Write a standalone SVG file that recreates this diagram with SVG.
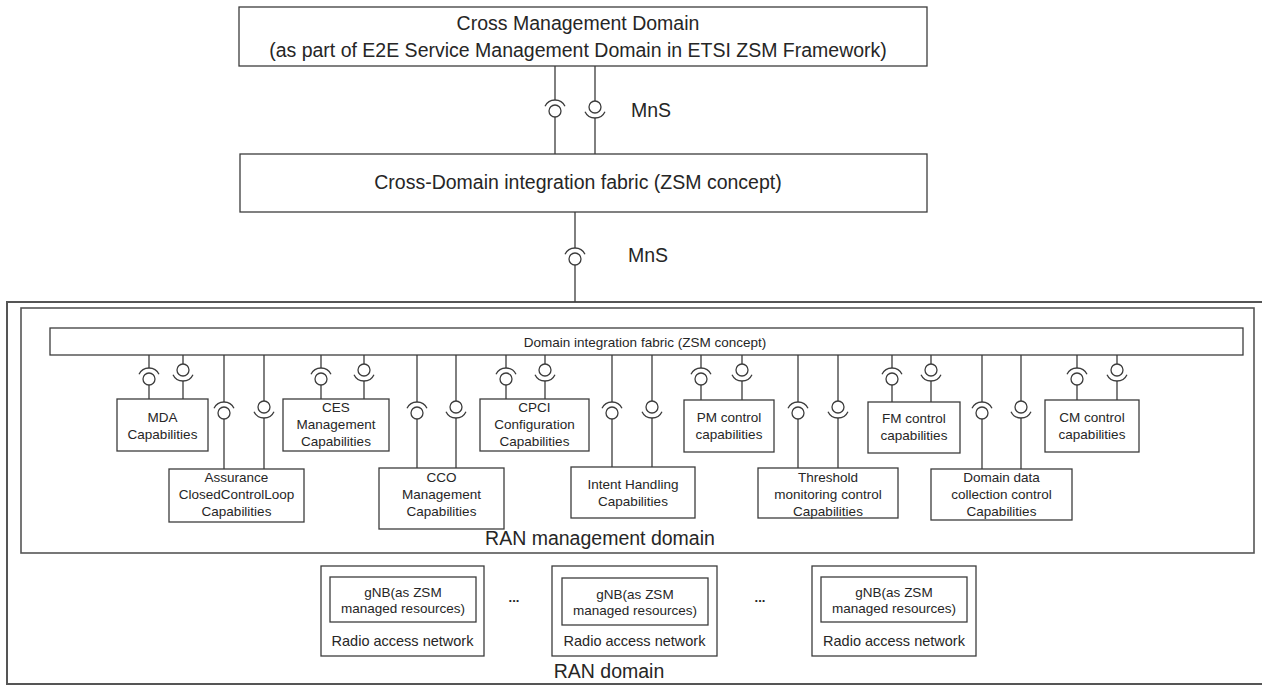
<svg xmlns="http://www.w3.org/2000/svg" xmlns:xlink="http://www.w3.org/1999/xlink" width="1262" height="686" viewBox="0 0 1262 686">
<style>
  .box{fill:#fff;stroke:#3c3c3c;stroke-width:1.3}
  .frame{fill:none;stroke:#555;stroke-width:2}
  .ln{fill:none;stroke:#3c3c3c;stroke-width:1.3}
  text{font-family:"Liberation Sans",Arial,sans-serif;fill:#262626;text-anchor:middle}
  .big{font-size:19.5px}
  .sm{font-size:13.5px}
  .md{font-size:14.5px}
  .dots{font-size:13px;font-weight:bold}
</style>
<defs>
  <g id="sockA" class="ln"><path d="M-9.97,-4.65 A11,11 0 0 1 9.97,-4.65"/><circle cx="0" cy="0" r="6"/></g>
  <g id="ballB" class="ln"><circle cx="0" cy="0" r="6"/><path d="M-9.97,4.65 A11,11 0 0 0 9.97,4.65"/></g>
</defs>
<rect width="1262" height="686" fill="#fff"/>

<g id="ran-domain">
  <rect class="frame" x="7" y="302" width="1265" height="382"/>
  <text class="big" x="609" y="678">RAN domain</text>
</g>
<g id="ran-management-domain">
  <rect class="frame" x="21" y="308" width="1233" height="245" style="stroke-width:1.6"/>
  <text class="big" x="600" y="545">RAN management domain</text>
</g>

<g id="cross-management-domain">
  <rect class="box" x="239" y="7" width="688" height="59"/>
  <text class="big" x="578" y="30">Cross Management Domain</text>
  <text class="big" x="578" y="57">(as part of E2E Service Management Domain in ETSI ZSM Framework)</text>
</g>
<g id="cross-domain-fabric">
  <rect class="box" x="240" y="154" width="687" height="58"/>
  <text class="big" x="578" y="189">Cross-Domain integration fabric (ZSM concept)</text>
</g>
<g id="domain-fabric">
  <rect class="box" x="50" y="328" width="1193" height="27"/>
  <text class="sm" x="645" y="347">Domain integration fabric (ZSM concept)</text>
</g>

<g id="connectors">
  <g id="c-top-1"><path class="ln" d="M555,66V100M555,117V154"/><use xlink:href="#sockA" x="555" y="111"/></g>
  <g id="c-top-2"><path class="ln" d="M595,66V101M595,118V154"/><use xlink:href="#ballB" x="595" y="107"/></g>
  <text class="big" x="651" y="117">MnS</text>
  <g id="c-mid"><path class="ln" d="M575,212V248M575,265V302"/><use xlink:href="#sockA" x="575" y="259"/></g>
  <text class="big" x="648" y="262">MnS</text>

  <g id="c-mda-1"><path class="ln" d="M149,355V368M149,385V399"/><use xlink:href="#sockA" x="149" y="379"/></g>
  <g id="c-mda-2"><path class="ln" d="M183,355V364M183,381V399"/><use xlink:href="#ballB" x="183" y="370"/></g>
  <g id="c-ces-1"><path class="ln" d="M321,355V368M321,385V399"/><use xlink:href="#sockA" x="321" y="379"/></g>
  <g id="c-ces-2"><path class="ln" d="M364,355V364M364,381V399"/><use xlink:href="#ballB" x="364" y="370"/></g>
  <g id="c-cpci-1"><path class="ln" d="M506,355V368M506,385V399"/><use xlink:href="#sockA" x="506" y="379"/></g>
  <g id="c-cpci-2"><path class="ln" d="M545,355V364M545,381V399"/><use xlink:href="#ballB" x="545" y="370"/></g>
  <g id="c-pm-1"><path class="ln" d="M701,355V368M701,385V400"/><use xlink:href="#sockA" x="701" y="379"/></g>
  <g id="c-pm-2"><path class="ln" d="M742,355V364M742,381V400"/><use xlink:href="#ballB" x="742" y="370"/></g>
  <g id="c-fm-1"><path class="ln" d="M892,355V368M892,385V402"/><use xlink:href="#sockA" x="892" y="379"/></g>
  <g id="c-fm-2"><path class="ln" d="M931,355V364M931,381V402"/><use xlink:href="#ballB" x="931" y="370"/></g>
  <g id="c-cm-1"><path class="ln" d="M1077,355V368M1077,385V400"/><use xlink:href="#sockA" x="1077" y="379"/></g>
  <g id="c-cm-2"><path class="ln" d="M1117,355V364M1117,381V400"/><use xlink:href="#ballB" x="1117" y="370"/></g>

  <g id="c-acl-1"><path class="ln" d="M224,355V402M224,419V469"/><use xlink:href="#sockA" x="224" y="413"/></g>
  <g id="c-acl-2"><path class="ln" d="M264,355V401M264,418V469"/><use xlink:href="#ballB" x="264" y="407"/></g>
  <g id="c-cco-1"><path class="ln" d="M417,355V402M417,419V468"/><use xlink:href="#sockA" x="417" y="413"/></g>
  <g id="c-cco-2"><path class="ln" d="M456,355V401M456,418V468"/><use xlink:href="#ballB" x="456" y="407"/></g>
  <g id="c-int-1"><path class="ln" d="M612,355V402M612,419V467"/><use xlink:href="#sockA" x="612" y="413"/></g>
  <g id="c-int-2"><path class="ln" d="M652,355V401M652,418V467"/><use xlink:href="#ballB" x="652" y="407"/></g>
  <g id="c-thr-1"><path class="ln" d="M798,355V402M798,419V468"/><use xlink:href="#sockA" x="798" y="413"/></g>
  <g id="c-thr-2"><path class="ln" d="M838,355V401M838,418V468"/><use xlink:href="#ballB" x="838" y="407"/></g>
  <g id="c-ddc-1"><path class="ln" d="M982,355V402M982,419V469"/><use xlink:href="#sockA" x="982" y="413"/></g>
  <g id="c-ddc-2"><path class="ln" d="M1021,355V401M1021,418V469"/><use xlink:href="#ballB" x="1021" y="407"/></g>
</g>

<g id="mda">
  <rect class="box" x="117" y="399" width="91" height="52"/>
  <text class="sm" x="162.5" y="422">MDA</text>
  <text class="sm" x="162.5" y="439">Capabilities</text>
</g>
<g id="ces">
  <rect class="box" x="283" y="399" width="106" height="52"/>
  <text class="sm" x="336" y="412">CES</text>
  <text class="sm" x="336" y="429">Management</text>
  <text class="sm" x="336" y="446">Capabilities</text>
</g>
<g id="cpci">
  <rect class="box" x="480" y="399" width="109" height="52"/>
  <text class="sm" x="534.5" y="412">CPCI</text>
  <text class="sm" x="534.5" y="429">Configuration</text>
  <text class="sm" x="534.5" y="446">Capabilities</text>
</g>
<g id="pm">
  <rect class="box" x="684" y="400" width="90" height="52"/>
  <text class="sm" x="729" y="422">PM control</text>
  <text class="sm" x="729" y="439">capabilities</text>
</g>
<g id="fm">
  <rect class="box" x="868" y="402" width="92" height="51"/>
  <text class="sm" x="914" y="423">FM control</text>
  <text class="sm" x="914" y="440">capabilities</text>
</g>
<g id="cm">
  <rect class="box" x="1045" y="400" width="94" height="52"/>
  <text class="sm" x="1092" y="422">CM control</text>
  <text class="sm" x="1092" y="439">capabilities</text>
</g>

<g id="assurance">
  <rect class="box" x="169" y="469" width="135" height="53"/>
  <text class="sm" x="236.5" y="482">Assurance</text>
  <text class="sm" x="236.5" y="499">ClosedControlLoop</text>
  <text class="sm" x="236.5" y="516">Capabilities</text>
</g>
<g id="cco">
  <rect class="box" x="379" y="468" width="125" height="61"/>
  <text class="sm" x="441.5" y="482">CCO</text>
  <text class="sm" x="441.5" y="499">Management</text>
  <text class="sm" x="441.5" y="516">Capabilities</text>
</g>
<g id="intent">
  <rect class="box" x="571" y="467" width="124" height="51"/>
  <text class="sm" x="633" y="489">Intent Handling</text>
  <text class="sm" x="633" y="506">Capabilities</text>
</g>
<g id="threshold">
  <rect class="box" x="758" y="468" width="140" height="50"/>
  <text class="sm" x="828" y="482">Threshold</text>
  <text class="sm" x="828" y="499">monitoring control</text>
  <text class="sm" x="828" y="516">Capabilities</text>
</g>
<g id="ddc">
  <rect class="box" x="931" y="469" width="141" height="51"/>
  <text class="sm" x="1001.5" y="482">Domain data</text>
  <text class="sm" x="1001.5" y="499">collection control</text>
  <text class="sm" x="1001.5" y="516">Capabilities</text>
</g>

<g id="ran-1">
  <rect class="box" x="321" y="566" width="163" height="90"/>
  <rect class="box" x="330" y="577" width="146" height="45"/>
  <text class="sm" x="403" y="597">gNB(as ZSM</text>
  <text class="sm" x="403" y="613">managed resources)</text>
  <text class="md" x="402.5" y="646">Radio access network</text>
</g>
<text class="dots" x="514" y="602">...</text>
<g id="ran-2">
  <rect class="box" x="552" y="566" width="165" height="90"/>
  <rect class="box" x="562" y="578" width="146" height="47"/>
  <text class="sm" x="635" y="599">gNB(as ZSM</text>
  <text class="sm" x="635" y="615">managed resources)</text>
  <text class="md" x="634.5" y="646">Radio access network</text>
</g>
<text class="dots" x="760" y="602">...</text>
<g id="ran-3">
  <rect class="box" x="812" y="566" width="164" height="90"/>
  <rect class="box" x="821" y="577" width="146" height="45"/>
  <text class="sm" x="894" y="597">gNB(as ZSM</text>
  <text class="sm" x="894" y="613">managed resources)</text>
  <text class="md" x="894" y="646">Radio access network</text>
</g>
</svg>
